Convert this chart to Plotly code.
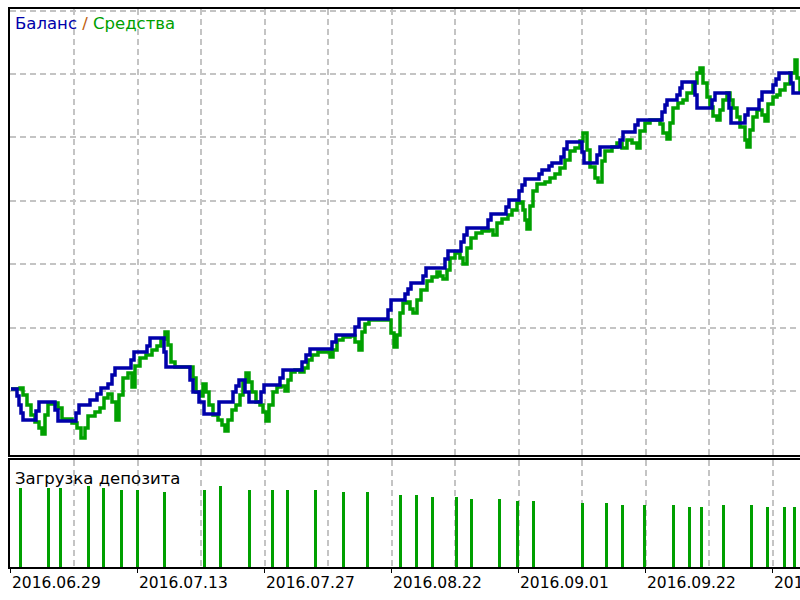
import plotly.graph_objects as go

# Balance (step line), x = trade-time index, y = balance units
balance_x = [1, 7, 9, 11, 13, 26, 29, 45, 48, 66, 69, 80, 87, 91, 98, 102, 105, 121, 124, 137, 140,
             154, 156, 180, 183, 189, 194, 209, 223, 226, 229, 235, 239, 251, 254, 270, 273, 292, 296,
             300, 322, 326, 345, 349, 378, 381, 395, 398, 401, 413, 416, 435, 438, 451, 454, 457, 478,
             481, 496, 499, 509, 512, 515, 529, 532, 539, 542, 551, 554, 557, 572, 574, 587, 590, 610,
             613, 625, 628, 652, 655, 657, 667, 670, 672, 685, 687, 702, 705, 719, 721, 735, 738, 749,
             752, 763, 766, 769, 781, 783, 790]
balance_y = [66, 59, 50, 42, 35, 44, 53, 45, 34, 42, 50, 55, 61, 67, 71, 80, 87, 95, 103, 109, 117,
             103, 88, 75, 63, 53, 41, 53, 63, 69, 75, 63, 53, 63, 70, 77, 85, 93, 100,
             106, 113, 120, 128, 136, 145, 155, 161, 166, 172, 179, 187, 196, 204, 213, 220, 227, 235,
             241, 248, 255, 264, 270, 276, 281, 285, 289, 292, 298, 306, 313, 303, 292, 300, 308, 315,
             323, 330, 335, 343, 350, 355, 360, 367, 373, 360, 347, 355, 362, 347, 332, 340, 346, 355,
             363, 370, 376, 382, 372, 362, 362]

# Equity
equity_x = [1, 10, 13, 17, 21, 25, 29, 32, 35, 38, 45, 48, 52, 62, 67, 71, 75, 78, 85, 90, 94, 98,
            102, 106, 109, 113, 118, 122, 125, 130, 136, 142, 147, 151, 155, 158, 161, 165, 180, 183,
            186, 190, 193, 196, 199, 203, 208, 212, 215, 218, 222, 226, 230, 233, 236, 239, 242, 246,
            250, 253, 256, 259, 263, 267, 271, 275, 278, 281, 285, 290, 294, 298, 302, 308, 315, 320,
            323, 327, 333, 340, 345, 349, 352, 355, 359, 378, 381, 384, 387, 390, 393, 397, 400, 403,
            407, 411, 417, 422, 427, 430, 433, 437, 440, 445, 450, 453, 457, 461, 466, 472, 479, 483,
            487, 492, 498, 502, 507, 510, 513, 515, 517, 520, 523, 527, 535, 540, 545, 550, 555, 560,
            565, 570, 573, 577, 580, 585, 588, 592, 595, 602, 607, 612, 617, 622, 627, 630, 635, 640,
            645, 650, 653, 657, 660, 663, 668, 673, 677, 683, 687, 690, 693, 697, 700, 703, 707, 710,
            713, 717, 720, 723, 727, 730, 735, 737, 740, 743, 747, 752, 755, 758, 763, 767, 770, 775,
            780, 785, 787, 790]
equity_y = [66, 67, 60, 50, 40, 33, 27, 21, 40, 51, 52, 47, 36, 32, 27, 17, 27, 39, 43, 47, 57, 61,
            53, 35, 60, 77, 82, 68, 89, 97, 100, 105, 109, 116, 123, 110, 93, 88, 88, 77,
            63, 59, 71, 63, 50, 40, 35, 30, 24, 35, 45, 50, 60, 73, 82, 73, 63, 53,
            50, 43, 34, 50, 63, 68, 69, 64, 75, 83, 85, 83, 87, 95, 100, 103, 103, 98,
            105, 115, 118, 119, 113, 105, 123, 131, 135, 135, 122, 108, 120, 142, 152, 153, 146, 142,
            155, 165, 174, 178, 183, 179, 176, 185, 197, 202, 197, 191, 207, 217, 222, 224, 225, 220,
            232, 236, 240, 245, 252, 253, 245, 235, 226, 249, 264, 271, 273, 277, 281, 287,
            295, 304, 307, 314, 322, 305, 288, 277, 273, 294, 304, 308, 312, 307, 315, 312, 307, 324,
            332, 335, 335, 331, 322, 316, 332, 347, 352, 355, 362, 372, 382, 387, 372, 358, 348, 339,
            335, 345, 355, 362, 355, 347, 338, 328, 315, 308, 325, 338, 345, 340, 334, 351, 358, 360,
            365, 371, 382, 395, 377, 363]

# Deposit load bars
load_x = [10, 38, 50, 78, 93, 111, 127, 154, 194, 210, 239, 262, 277, 305, 333, 357, 390, 406, 422,
          446, 461, 489, 507, 523, 572, 596, 612, 634, 663, 679, 691, 713, 741, 757, 774, 784]
load_y = [78, 78, 78, 80, 78, 76, 76, 74, 76, 80, 76, 76, 76, 76, 74, 74, 71, 71, 69,
          69, 67, 67, 65, 65, 63, 63, 61, 61, 61, 59, 59, 61, 61, 59, 59, 59]

date_labels = ["2016.06.29", "2016.07.13", "2016.07.27", "2016.08.22",
               "2016.09.01", "2016.09.22", "2016.10.06"]

GREEN = "#00A000"
BLUE = "#0000AA"
GRID = "#c4c4c4"
DASH = "6px,4px"
FONT = "DejaVu Sans"

major_ticks = [0.5 + 127 * k for k in range(len(date_labels))]
minor_ticks = [64 + 127 * k for k in range(6)]

fig = go.Figure()
fig.add_trace(go.Scatter(x=equity_x, y=equity_y, mode="lines",
                         line=dict(color=GREEN, width=3.5, shape="hv"),
                         xaxis="x", yaxis="y", hoverinfo="skip"))
fig.add_trace(go.Scatter(x=balance_x, y=balance_y, mode="lines",
                         line=dict(color=BLUE, width=3.5, shape="hv"),
                         xaxis="x", yaxis="y", hoverinfo="skip"))
fig.add_trace(go.Bar(x=load_x, y=load_y, width=3,
                     marker=dict(color=GREEN, line=dict(width=0)),
                     xaxis="x2", yaxis="y2", hoverinfo="skip"))

common_x = dict(range=[0, 790], tickvals=major_ticks, showgrid=True, gridcolor=GRID,
                gridwidth=1.5, griddash=DASH, zeroline=False, showline=True, mirror=True,
                linecolor="black", linewidth=2, automargin=False,
                minor=dict(tickvals=minor_ticks, showgrid=True, gridcolor=GRID,
                           gridwidth=1.5, griddash=DASH, ticks=""))

top_bottom = (567 - 455) / 558
low_top = (567 - 460) / 558

fig.update_layout(
    width=800, height=600,
    margin=dict(l=10, r=0, t=9, b=33, autoexpand=False),
    paper_bgcolor="white", plot_bgcolor="white",
    showlegend=False, hovermode=False,
    xaxis=dict(**common_x, anchor="y", showticklabels=False, ticks=""),
    yaxis=dict(domain=[top_bottom, 1], range=[0, 446], tick0=64, dtick=63.4,
               showticklabels=False, showgrid=True, gridcolor=GRID, gridwidth=1.5,
               griddash=DASH, zeroline=False, showline=True, linecolor="black",
               linewidth=2, ticks="", automargin=False),
    xaxis2=dict(**common_x, anchor="y2", matches="x", ticktext=date_labels,
                ticks="outside", ticklen=4, tickcolor="black", tickwidth=1,
                ticklabelposition="outside right", ticklabeloverflow="allow",
                tickfont=dict(family=FONT, size=15.5, color="black")),
    yaxis2=dict(domain=[0, low_top], range=[0, 106], showgrid=False,
                showticklabels=False, zeroline=False, showline=True,
                linecolor="black", linewidth=2, ticks="", automargin=False),
    bargap=0,
)

fig.add_annotation(
    x=(13 - 10) / 790, y=(567 - 24) / 558, xref="paper", yref="paper",
    xanchor="left", yanchor="middle", showarrow=False,
    text=("<span style='color:%s'>Баланс</span> <span style='color:#C06010'>/</span> "
          "<span style='color:%s'>Средства</span>") % (BLUE, GREEN),
    font=dict(family=FONT, size=16.5))
fig.add_annotation(
    x=(13 - 10) / 790, y=(567 - 478) / 558, xref="paper", yref="paper",
    xanchor="left", yanchor="middle", showarrow=False,
    text="Загрузка депозита", font=dict(family=FONT, size=16.5, color="black"))

fig.write_html("out.html")
